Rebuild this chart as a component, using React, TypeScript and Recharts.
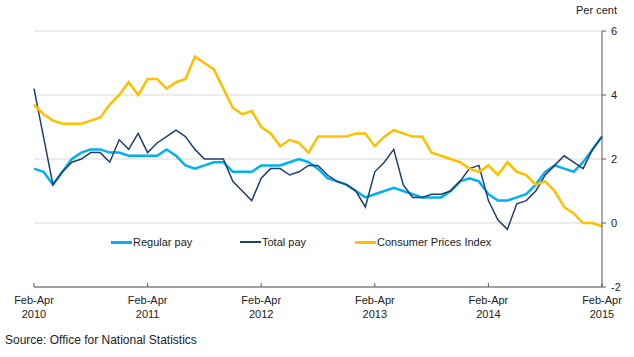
import { CartesianGrid, Line, LineChart, XAxis, YAxis } from 'recharts';

// Feb-Apr 2010 to Feb-Apr 2015, rolling 3-month periods (61 points)
const regularPay = [
  1.7, 1.6, 1.2, 1.6, 2.0, 2.2, 2.3, 2.3, 2.2, 2.2, 2.1,
  2.1, 2.1, 2.1, 2.3, 2.1, 1.8, 1.7, 1.8, 1.9, 1.9,
  1.6, 1.6, 1.6, 1.8, 1.8, 1.8, 1.9, 2.0, 1.9, 1.7,
  1.4, 1.3, 1.2, 1.0, 0.8, 0.9, 1.0, 1.1, 1.0, 0.9,
  0.8, 0.8, 0.8, 1.0, 1.3, 1.4, 1.3, 0.9, 0.7, 0.7,
  0.8, 0.9, 1.2, 1.6, 1.8, 1.7, 1.6, 1.9, 2.3, 2.7,
];
const totalPay = [
  4.2, 2.7, 1.2, 1.6, 1.9, 2.0, 2.2, 2.2, 1.9, 2.6, 2.3,
  2.8, 2.2, 2.5, 2.7, 2.9, 2.7, 2.3, 2.0, 2.0, 2.0,
  1.3, 1.0, 0.7, 1.4, 1.7, 1.7, 1.5, 1.6, 1.8, 1.8,
  1.5, 1.3, 1.2, 1.0, 0.5, 1.6, 1.9, 2.3, 1.2, 0.8,
  0.8, 0.9, 0.9, 1.0, 1.3, 1.7, 1.8, 0.7, 0.1, -0.2,
  0.6, 0.7, 1.0, 1.5, 1.8, 2.1, 1.9, 1.7, 2.3, 2.7,
];
const cpi = [
  3.7, 3.4, 3.2, 3.1, 3.1, 3.1, 3.2, 3.3, 3.7, 4.0, 4.4,
  4.0, 4.5, 4.5, 4.2, 4.4, 4.5, 5.2, 5.0, 4.8, 4.2,
  3.6, 3.4, 3.5, 3.0, 2.8, 2.4, 2.6, 2.5, 2.2, 2.7,
  2.7, 2.7, 2.7, 2.8, 2.8, 2.4, 2.7, 2.9, 2.8, 2.7,
  2.7, 2.2, 2.1, 2.0, 1.9, 1.7, 1.6, 1.8, 1.5, 1.9,
  1.6, 1.5, 1.2, 1.3, 1.0, 0.5, 0.3, 0.0, 0.0, -0.1,
];

const tickPeriod = 'Feb-Apr';
const tickYears = ['2010', '2011', '2012', '2013', '2014', '2015'];
const xTicks = [0, 12, 24, 36, 48, 60];
const yTicks = [-2, 0, 2, 4, 6];

const data = cpi.map((v, i) => ({
  idx: i,
  regular: regularPay[i],
  total: totalPay[i],
  cpi: v,
}));

const FONT = "'Liberation Sans', Arial, sans-serif";
const TEXT = '#222222';
const AXIS = '#595959';
const LIGHT_BLUE = '#00b0f0';
const NAVY = '#1f3f6e';
const GOLD = '#ffc000';

function YearTick(props: any) {
  const { x, y, payload, index } = props;
  const year = tickYears[index] ?? tickYears[xTicks.indexOf(payload.value)];
  return (
    <g>
      <line x1={x} y1={y - 4} x2={x} y2={y} stroke={AXIS} />
      <text x={x} y={y} textAnchor="middle" fill={TEXT} fontSize={11} fontFamily={FONT}>
        <tspan x={x} dy={17}>{tickPeriod}</tspan>
        <tspan x={x} dy={13.5}>{year}</tspan>
      </text>
    </g>
  );
}

function LegendItem({ color, width, label, left }: { color: string; width: number; label: string; left: number }) {
  return (
    <div style={{ position: 'absolute', left, top: 234, display: 'flex', alignItems: 'center', height: 16 }}>
      <div style={{ width: 21, height: width, background: color, marginRight: 1 }} />
      <span style={{ fontSize: 11, color: TEXT, fontFamily: FONT, whiteSpace: 'nowrap' }}>{label}</span>
    </div>
  );
}

export default function App() {
  return (
    <div style={{ position: 'absolute', left: 0, top: 0, width: 634, height: 357, background: '#fff', fontFamily: FONT }}>
      <LineChart width={634} height={357} data={data} margin={{ top: 31, right: 0, bottom: 30, left: 34 }}>
        <CartesianGrid horizontal vertical={false} stroke="#d9d9d9" />
        <XAxis
          type="number"
          dataKey="idx"
          domain={[0, 60]}
          ticks={xTicks}
          height={40}
          tickSize={0}
          tickMargin={0}
          tickLine={false}
          axisLine={{ stroke: AXIS }}
          tick={<YearTick />}
          interval={0}
        />
        <YAxis
          orientation="right"
          type="number"
          domain={[-2, 6]}
          ticks={yTicks}
          width={32}
          tickSize={4}
          tickMargin={5}
          axisLine={{ stroke: AXIS }}
          tickLine={{ stroke: AXIS }}
          tick={{ fontSize: 11, fill: TEXT, fontFamily: FONT, textAnchor: 'start' }}
          interval={0}
        />
        <Line type="linear" dataKey="regular" stroke={LIGHT_BLUE} strokeWidth={2.5} dot={false} isAnimationActive={false} />
        <Line type="linear" dataKey="total" stroke={NAVY} strokeWidth={1.5} dot={false} isAnimationActive={false} />
        <Line type="linear" dataKey="cpi" stroke={GOLD} strokeWidth={2.5} dot={false} isAnimationActive={false} />
      </LineChart>
      <LegendItem color={LIGHT_BLUE} width={3} label="Regular pay" left={111} />
      <LegendItem color={NAVY} width={2} label="Total pay" left={240} />
      <LegendItem color={GOLD} width={3} label="Consumer Prices Index" left={355} />
      <div style={{ position: 'absolute', right: 17, top: 4, fontSize: 11, color: TEXT }}>Per cent</div>
      <div style={{ position: 'absolute', left: 5, top: 333, fontSize: 12, color: TEXT }}>Source: Office for National Statistics</div>
    </div>
  );
}
